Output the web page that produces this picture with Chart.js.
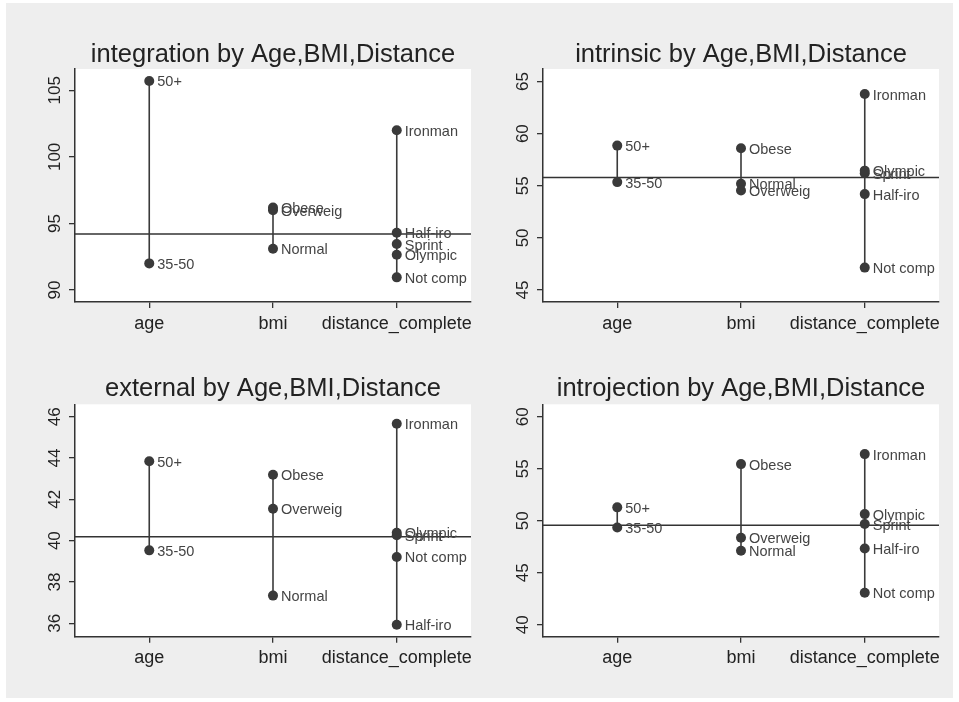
<!DOCTYPE html>
<html>
<head>
<meta charset="utf-8">
<script src="https://cdn.jsdelivr.net/npm/chart.js@4"></script>
<style>
  body { margin: 0; background: #fff; }
  #bg { position: absolute; left: 6px; top: 3px; width: 947px; height: 695px; background: #eeeeee; }
  canvas { position: absolute; }
</style>
</head>
<body>
<div id="bg"></div>
<canvas id="c1" width="479" height="351" style="left:0;top:0"></canvas>
<canvas id="c2" width="480" height="351" style="left:479px;top:0"></canvas>
<canvas id="c3" width="479" height="351" style="left:0;top:351px"></canvas>
<canvas id="c4" width="480" height="351" style="left:479px;top:351px"></canvas>
<script>
var categories = ['age', 'bmi', 'distance_complete'];
var ageLabels = ['35-50', '50+'];
var bmiLabels = ['Normal', 'Overweig', 'Obese'];
var distLabels = ['Not comp', 'Sprint', 'Olympic', 'Half-iro', 'Ironman'];

var integrationAge = [92.0, 105.7];
var integrationBmi = [93.1, 96.0, 96.2];
var integrationDist = [90.95, 93.45, 92.65, 94.3, 102.0];
var integrationMean = 94.2;
var integrationTicks = [90, 95, 100, 105];

var intrinsicAge = [55.35, 58.85];
var intrinsicBmi = [55.2, 54.55, 58.6];
var intrinsicDist = [47.15, 56.2, 56.45, 54.2, 63.8];
var intrinsicMean = 55.8;
var intrinsicTicks = [45, 50, 55, 60, 65];

var externalAge = [39.53, 43.84];
var externalBmi = [37.34, 41.54, 43.19];
var externalDist = [39.21, 40.26, 40.38, 35.93, 45.66];
var externalMean = 40.19;
var externalTicks = [36, 38, 40, 42, 44, 46];

var introjectionAge = [49.36, 51.29];
var introjectionBmi = [47.12, 48.36, 55.45];
var introjectionDist = [43.08, 49.68, 50.64, 47.34, 56.41];
var introjectionMean = 49.58;
var introjectionTicks = [40, 45, 50, 55, 60];

var FONT = '"Liberation Sans", Arial, sans-serif';
var INK = '#3a3a3a';

// white plot area, mean line, rotated y labels and point names
var panelPlugin = {
  id: 'panel',
  beforeDraw: function(chart) {
    var a = chart.chartArea, ctx = chart.ctx;
    ctx.save();
    ctx.fillStyle = '#ffffff';
    ctx.fillRect(a.left, a.top, a.right - a.left, a.bottom - a.top);
    ctx.restore();
  },
  beforeDatasetsDraw: function(chart) {
    var a = chart.chartArea, ctx = chart.ctx;
    var y = chart.scales.y.getPixelForValue(chart.options.plugins.panel.mean);
    ctx.save();
    ctx.strokeStyle = '#333333';
    ctx.lineWidth = 1.5;
    ctx.beginPath();
    ctx.moveTo(a.left, y);
    ctx.lineTo(a.right, y);
    ctx.stroke();
    ctx.restore();
  },
  afterDatasetsDraw: function(chart) {
    var ctx = chart.ctx, a = chart.chartArea, ys = chart.scales.y;
    ctx.save();
    ctx.fillStyle = '#222222';
    ctx.font = '17px ' + FONT;
    ctx.textAlign = 'center';
    ctx.textBaseline = 'alphabetic';
    ys.ticks.forEach(function(t) {
      ctx.save();
      ctx.translate(a.left - 15, ys.getPixelForValue(t.value));
      ctx.rotate(-Math.PI / 2);
      ctx.fillText(String(t.value), 0, 0);
      ctx.restore();
    });
    ctx.fillStyle = '#444444';
    ctx.font = '14.5px ' + FONT;
    ctx.textAlign = 'left';
    ctx.textBaseline = 'middle';
    chart.data.datasets.forEach(function(ds, i) {
      chart.getDatasetMeta(i).data.forEach(function(pt, j) {
        ctx.fillText(ds.pointLabels[j], pt.x + 8, pt.y + 1.5);
      });
    });
    ctx.restore();
  }
};

function series(i, vals, labels) {
  return {
    data: vals.map(function(v) { return { x: i, y: v }; }),
    pointLabels: labels,
    showLine: true,
    borderColor: INK,
    borderWidth: 1.6,
    pointRadius: 5,
    pointHoverRadius: 5,
    pointBackgroundColor: INK,
    pointBorderWidth: 0
  };
}

function makePanel(id, title, age, bmi, dist, mean, ticks, yMin, yMax, pad, titleGap) {
  new Chart(document.getElementById(id), {
    type: 'scatter',
    data: {
      datasets: [
        series(0, age, ageLabels),
        series(1, bmi, bmiLabels),
        series(2, dist, distLabels)
      ]
    },
    options: {
      responsive: false,
      animation: false,
      layout: { padding: pad },
      plugins: {
        legend: { display: false },
        tooltip: { enabled: false },
        title: {
          display: true,
          text: title,
          fullSize: false,
          color: '#222222',
          font: { family: FONT, size: 25.5, weight: 'normal', lineHeight: 1.0 },
          padding: { top: 0, bottom: titleGap }
        },
        panel: { mean: mean }
      },
      scales: {
        x: {
          type: 'linear',
          min: -0.6,
          max: 2.6,
          afterBuildTicks: function(s) { s.ticks = categories.map(function(c, i) { return { value: i }; }); },
          afterFit: function(s) { s.height = 40; },
          ticks: {
            color: '#222222',
            font: { family: FONT, size: 18 },
            padding: 5,
            maxRotation: 0,
            callback: function(v) { return categories[v]; }
          },
          grid: { drawOnChartArea: false, drawTicks: true, tickLength: 6, color: '#333333', lineWidth: 1.3 },
          border: { display: true, color: '#333333', width: 1.5 }
        },
        y: {
          min: yMin,
          max: yMax,
          afterBuildTicks: function(s) { s.ticks = ticks.map(function(v) { return { value: v }; }); },
          afterFit: function(s) { s.width = 40; },
          ticks: { display: false },
          grid: { drawOnChartArea: false, drawTicks: true, tickLength: 6, color: '#333333', lineWidth: 1.3 },
          border: { display: true, color: '#333333', width: 1.5 }
        }
      }
    },
    plugins: [panelPlugin]
  });
}

makePanel('c1', 'integration by Age,BMI,Distance', integrationAge, integrationBmi, integrationDist,
  integrationMean, integrationTicks, 89.1, 106.6, { left: 35, right: 8, top: 41.95, bottom: 9 }, 1.55);
makePanel('c2', 'intrinsic by Age,BMI,Distance', intrinsicAge, intrinsicBmi, intrinsicDist,
  intrinsicMean, intrinsicTicks, 43.85, 66.2, { left: 24, right: 20, top: 41.95, bottom: 9 }, 1.55);
makePanel('c3', 'external by Age,BMI,Distance', externalAge, externalBmi, externalDist,
  externalMean, externalTicks, 35.35, 46.6, { left: 35, right: 8, top: 25.25, bottom: 25.3 }, 2.55);
makePanel('c4', 'introjection by Age,BMI,Distance', introjectionAge, introjectionBmi, introjectionDist,
  introjectionMean, introjectionTicks, 38.85, 61.2, { left: 24, right: 20, top: 25.25, bottom: 25.3 }, 2.55);
</script>
</body>
</html>
